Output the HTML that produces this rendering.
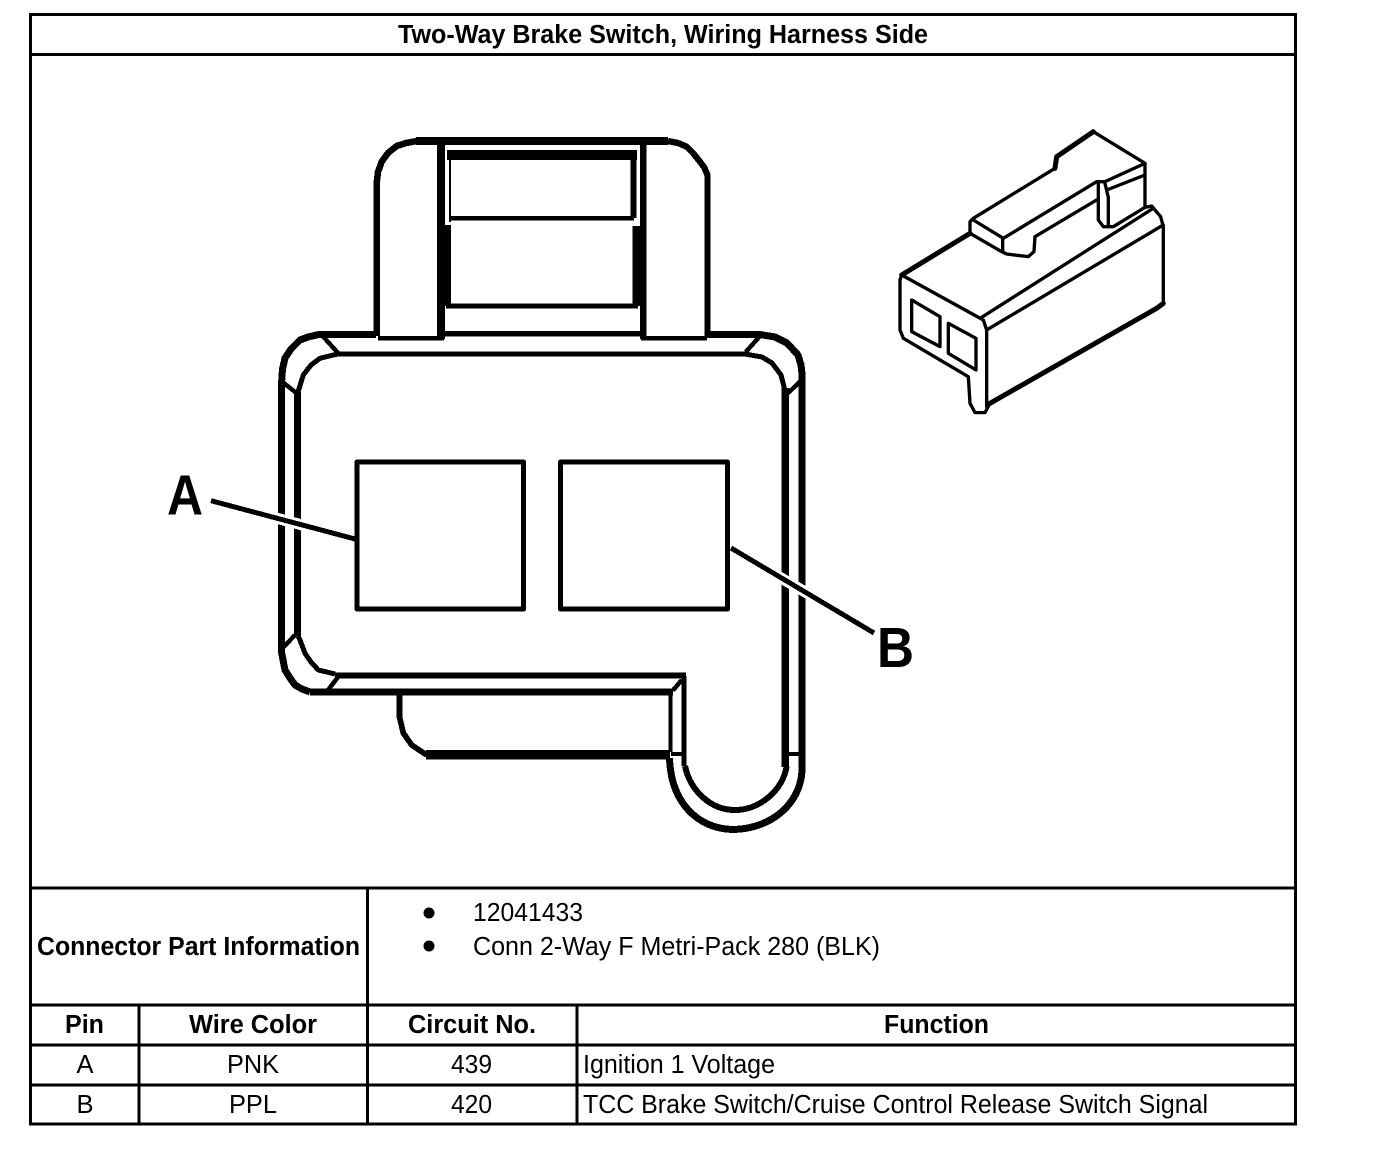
<!DOCTYPE html>
<html>
<head>
<meta charset="utf-8">
<style>
html,body{margin:0;padding:0;background:#fff;width:1376px;height:1152px;overflow:hidden}
svg{display:block}
text{font-family:"Liberation Sans",Arial,sans-serif;fill:#000}
.h{font-weight:bold;font-size:25.5px}
.t{font-size:25.5px}
</style>
</head>
<body>
<svg width="1376" height="1152" viewBox="0 0 1376 1152" xmlns="http://www.w3.org/2000/svg">
<rect width="1376" height="1152" fill="#fff"/>

<!-- table frame -->
<g stroke="#000" stroke-width="3" fill="none" shape-rendering="crispEdges">
  <rect x="30.5" y="14.5" width="1265" height="1109.5"/>
  <path d="M30 54.5H1296M30 888H1296M30 1005H1296M30 1045H1296M30 1085H1296"/>
  <path d="M367.5 888V1124M139 1005V1124M577 1005V1124"/>
</g>

<!-- main connector -->
<g fill="none" stroke="#000" stroke-linejoin="round" shape-rendering="crispEdges">
  <!-- top tab -->
  <path stroke-width="6.500" d="M376.700 336V183L378 172L381.700 161.700L388 153L396.700 146L406 143L417 141"/>
  <path stroke-width="6.300" d="M707.500 336V175L704 167L700 161.700L693 153L686.700 146.700L678 143L668 141"/>
  <path stroke-width="8" d="M416 140.800H668"/>
  <path stroke-width="7.700" d="M441 145V339"/>
  <path stroke-width="6.700" d="M643.300 145V339"/>
  <path stroke-width="4.700" d="M378 338.300H444M641 338.300H707"/>
  <!-- window -->
  <path stroke-width="10" d="M447 155H637"/>
  <path stroke-width="2" d="M450 155V222"/>
  <path stroke-width="6" d="M633.500 155V218"/>
  <path stroke-width="4.700" d="M450 218.300H634"/>
  <path stroke-width="5.300" d="M446 306H638"/>
  <path stroke-width="6" d="M448 225V306"/>
  <path stroke-width="7.500" d="M636 226V306"/>
  <!-- body outer -->
  <path stroke-width="7" d="M376 334.700H318L308 337L300 340L291 349L285 358L282.500 369L281.700 381V653L285 670L290 678L295 685L302 689L310 692"/>
  <path stroke-width="7" d="M707 334.700H761L775 337L787 343L798 355L801 365L802 374V771C800 805 770 829 733 829.500C700 829 671 805 669.500 758"/>
  <path stroke-width="5.700" d="M443 333.800H641"/>
  <path stroke-width="7.300" d="M310 692H673"/>
  <!-- body inner -->
  <path stroke-width="7" d="M297.500 392V636"/>
  <path stroke-width="5" d="M298 392L303.300 375L311 365L320 358.300L336.700 354.200H746L762 357L772 363L781 375L785.300 392"/>
  <path stroke-width="5" d="M298 636L300 640L305 653.300L311 662L318.300 670L335 674"/>
  <path stroke-width="6" d="M335 675.700H686"/>
  <path stroke-width="5" d="M684.200 676V766"/>
  <path stroke-width="7.300" d="M785.300 388V767"/>
  <path stroke-width="6" d="M685 766C690 790 710 810 735 810C760 810 783 790 786.700 766"/>
  <!-- corner miters -->
  <path stroke-width="4.500" d="M280 380L296.700 393.300M321.700 335L338.300 353.300M761 335L745.700 352M800 381.700L788 393M279.300 651.700L295 635M338.300 676.700L326.700 691.700M681.700 680L672.700 690.700"/>
  <!-- lower flap -->
  <path stroke-width="5.700" d="M399.500 692V717L403.300 733L411.700 745L426.700 755"/>
  <path stroke-width="9.300" d="M426 754.700H670"/>
  <path stroke-width="4.300" d="M670.500 690V752"/>
  <path stroke-width="4.300" d="M671 754H684M788 754H800"/>
  <!-- pins -->
  <rect x="357" y="462" width="166.500" height="147" stroke-width="5"/>
  <rect x="560.500" y="462" width="167" height="147" stroke-width="5"/>
  <!-- leaders -->
  <path stroke="#fff" stroke-width="11" d="M276 518L306 526M776 575L812 596"/>
  <path stroke-width="5" d="M211 500.700L355 539M731 548L874 633"/>
</g>

<text x="167" y="514.500" font-size="57" font-weight="bold" textLength="36" lengthAdjust="spacingAndGlyphs">A</text>
<text x="877" y="667" font-size="57" font-weight="bold" textLength="37" lengthAdjust="spacingAndGlyphs">B</text>

<!-- iso connector -->
<g transform="translate(890 120) scale(0.3333)" fill="none" stroke="#000" stroke-linejoin="round" stroke-linecap="round">
  <g stroke-width="10">
  <path d="M35 465L280 600L290 630V860"/>
  <path d="M820 550V320L812 290L785 258L765 262"/>
  <path d="M30 480V630L40 655L235 770L240 850L255 878L285 878L300 850"/>
  <path d="M35 465L30 480"/>
  <path d="M240 340V305L250 295L495 145"/>
  <path d="M610 35L765 130V262"/>
  <path d="M250 300L340 355L620 185H645L765 130"/>
  <path d="M240 340L335 395L350 402L415 410L432 395L435 350L620 240"/>
  <path d="M338 355V395"/>
  <path d="M625 190V300L640 320H670L765 262"/>
  <path d="M645 190L655 232V315M650 210L765 165"/>
  <path d="M275 592L785 268M290 630L820 315"/>
  <path d="M65 540L150 590V680L65 635Z"/>
  <path d="M175 610L258 655V750L175 700Z"/>
  </g>
  <g stroke-width="15">
  <path d="M35 465L240 340"/>
  <path d="M495 145L500 110L610 35"/>
  <path d="M820 550L800 565L300 850"/>
  </g>
</g>

<!-- text -->
<text class="h" x="398" y="43" textLength="530" lengthAdjust="spacingAndGlyphs">Two-Way Brake Switch, Wiring Harness Side</text>
<text class="h" x="37" y="955" textLength="323" lengthAdjust="spacingAndGlyphs">Connector Part Information</text>
<circle cx="429" cy="913" r="5.500"/>
<circle cx="429" cy="946" r="5.500"/>
<text class="t" x="473" y="921" textLength="110" lengthAdjust="spacingAndGlyphs">12041433</text>
<text class="t" x="473" y="955" textLength="407" lengthAdjust="spacingAndGlyphs">Conn 2-Way F Metri-Pack 280 (BLK)</text>

<text class="h" x="65" y="1033" textLength="39" lengthAdjust="spacingAndGlyphs">Pin</text>
<text class="h" x="189" y="1033" textLength="128" lengthAdjust="spacingAndGlyphs">Wire Color</text>
<text class="h" x="408" y="1033" textLength="128" lengthAdjust="spacingAndGlyphs">Circuit No.</text>
<text class="h" x="884" y="1033" textLength="105" lengthAdjust="spacingAndGlyphs">Function</text>

<text class="t" x="85" y="1073" text-anchor="middle">A</text>
<text class="t" x="227" y="1073" textLength="52" lengthAdjust="spacingAndGlyphs">PNK</text>
<text class="t" x="451" y="1073" textLength="41" lengthAdjust="spacingAndGlyphs">439</text>
<text class="t" x="583" y="1073" textLength="192" lengthAdjust="spacingAndGlyphs">Ignition 1 Voltage</text>

<text class="t" x="85" y="1113" text-anchor="middle">B</text>
<text class="t" x="229" y="1113" textLength="48" lengthAdjust="spacingAndGlyphs">PPL</text>
<text class="t" x="451" y="1113" textLength="41" lengthAdjust="spacingAndGlyphs">420</text>
<text class="t" x="583" y="1113" textLength="625" lengthAdjust="spacingAndGlyphs">TCC Brake Switch/Cruise Control Release Switch Signal</text>
</svg>
</body>
</html>
